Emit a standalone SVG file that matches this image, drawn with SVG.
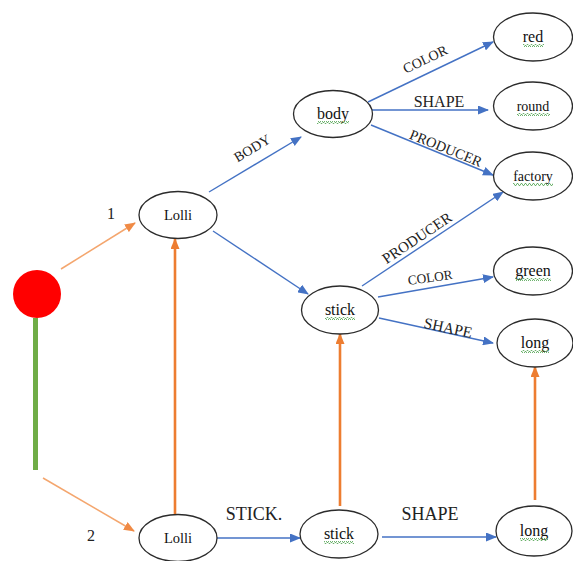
<svg xmlns="http://www.w3.org/2000/svg" width="573" height="561" viewBox="0 0 573 561">
<style>
.node ellipse{fill:#fff;stroke:#2b2b2b;stroke-width:1.3}
.t{font-family:"Liberation Serif","Times New Roman",serif;fill:#111;text-anchor:middle}
.n16{font-size:16px}
.n14{font-size:14px}
.lbl{font-family:"Liberation Serif","Times New Roman",serif;fill:#222;text-anchor:middle}
.blue{stroke:#4472C4;stroke-width:1.4;fill:none;marker-end:url(#ab)}
.orth{stroke:#F4A66E;stroke-width:1.5;fill:none;marker-end:url(#aol)}
.orv{stroke:#ED7D31;stroke-width:2.6;fill:none;marker-end:url(#ao)}
.sq{fill:url(#wavy)}
</style>
<defs>
<marker id="ab" markerUnits="userSpaceOnUse" markerWidth="11" markerHeight="9" refX="10" refY="4.5" orient="auto"><path d="M0,0 L11,4.5 L0,9 z" fill="#4472C4"/></marker>
<marker id="aol" markerUnits="userSpaceOnUse" markerWidth="11" markerHeight="9" refX="10" refY="4.5" orient="auto"><path d="M0,0 L11,4.5 L0,9 z" fill="#F08A45"/></marker>
<marker id="ao" markerUnits="userSpaceOnUse" markerWidth="11" markerHeight="9" refX="10" refY="4.5" orient="auto"><path d="M0,0 L11,4.5 L0,9 z" fill="#ED7D31"/></marker>
<pattern id="wavy" patternUnits="userSpaceOnUse" width="4" height="3"><path d="M0,2.5 L1,0.5 L2,0.5 L3,2.5 L4,2.5" stroke="#5DAA5D" stroke-width="0.9" fill="none"/></pattern>
</defs>

<g id="lollipop">
<rect x="33" y="318" width="5" height="152" fill="#70AD47"/>
<circle cx="37" cy="294" r="24" fill="#FF0000"/>
</g>

<g id="connectors">
<line class="orth" x1="61" y1="269" x2="135" y2="223"/>
<line class="orth" x1="43" y1="478" x2="134" y2="531"/>
<line class="orv" x1="175" y1="514" x2="175" y2="239"/>
<line class="orv" x1="340" y1="506" x2="340" y2="334"/>
<line class="orv" x1="535" y1="500" x2="535" y2="367"/>
<line class="blue" x1="209" y1="192" x2="301" y2="137"/>
<line class="blue" x1="213" y1="231" x2="308" y2="294"/>
<line class="blue" x1="368" y1="102" x2="493" y2="42"/>
<line class="blue" x1="371" y1="110" x2="488" y2="110"/>
<line class="blue" x1="371" y1="125" x2="493" y2="175"/>
<line class="blue" x1="362" y1="286" x2="503" y2="192"/>
<line class="blue" x1="378" y1="297" x2="493" y2="277"/>
<line class="blue" x1="379" y1="318" x2="493" y2="343"/>
<line class="blue" x1="217" y1="538" x2="300" y2="538"/>
<line class="blue" x1="382" y1="537" x2="496" y2="537"/>
<text class="lbl" font-size="16" x="111" y="219">1</text>
<text class="lbl" font-size="16" x="91" y="541">2</text>
<text class="lbl" font-size="14" transform="translate(252,148) rotate(-31)" y="5">BODY</text>
<text class="lbl" font-size="14" transform="translate(425,59) rotate(-25.6)" y="5">COLOR</text>
<text class="lbl" font-size="16" x="439" y="107">SHAPE</text>
<text class="lbl" font-size="14.4" transform="translate(446,148) rotate(22)" y="5">PRODUCER</text>
<text class="lbl" font-size="15" transform="translate(417,238) rotate(-33.7)" y="5">PRODUCER</text>
<text class="lbl" font-size="13.3" transform="translate(430,277) rotate(-8)" y="5">COLOR</text>
<text class="lbl" font-size="15.5" transform="translate(448,328) rotate(12)" y="5">SHAPE</text>
<text class="lbl" font-size="18" x="254" y="520">STICK.</text>
<text class="lbl" font-size="18" x="430" y="520">SHAPE</text>
</g>

<g id="lolli1" class="node"><ellipse cx="178" cy="215" rx="39" ry="23.5"/><text class="t" font-size="14.5" x="178" y="220">Lolli</text></g>
<g id="body" class="node"><ellipse cx="333" cy="114" rx="39.5" ry="23.5"/><text class="t n16" x="333" y="119">body</text><rect class="sq" x="317" y="121" width="32" height="3"/></g>
<g id="red" class="node"><ellipse cx="533" cy="37" rx="39.5" ry="24"/><text class="t n16" x="533" y="42">red</text><rect class="sq" x="523" y="44" width="21" height="3"/></g>
<g id="round" class="node"><ellipse cx="533" cy="106" rx="39.5" ry="24"/><text class="t n14" x="533" y="111">round</text><rect class="sq" x="517" y="113" width="33" height="3"/></g>
<g id="factory" class="node"><ellipse cx="533" cy="176" rx="39.5" ry="24"/><text class="t n14" x="533" y="181">factory</text><rect class="sq" x="513" y="183" width="40" height="3"/></g>
<g id="stick1" class="node"><ellipse cx="340" cy="310" rx="38.5" ry="24"/><text class="t n16" x="340" y="315">stick</text><rect class="sq" x="325" y="317" width="30" height="3"/></g>
<g id="green" class="node"><ellipse cx="533" cy="271" rx="39.5" ry="24"/><text class="t n16" x="533" y="276">green</text><rect class="sq" x="515" y="278" width="36" height="3"/></g>
<g id="long1" class="node"><ellipse cx="535" cy="343" rx="38" ry="24"/><text class="t n16" x="535" y="348">long</text><rect class="sq" x="521" y="350" width="28" height="3"/></g>
<g id="lolli2" class="node"><ellipse cx="178" cy="538" rx="39" ry="23.5"/><text class="t" font-size="14.5" x="178" y="543">Lolli</text></g>
<g id="stick2" class="node"><ellipse cx="339" cy="534" rx="39" ry="24"/><text class="t n16" x="339" y="539">stick</text><rect class="sq" x="324" y="541" width="30" height="3"/></g>
<g id="long2" class="node"><ellipse cx="534" cy="531" rx="38" ry="25"/><text class="t n16" x="534" y="536">long</text><rect class="sq" x="520" y="538" width="28" height="3"/></g>
</svg>
